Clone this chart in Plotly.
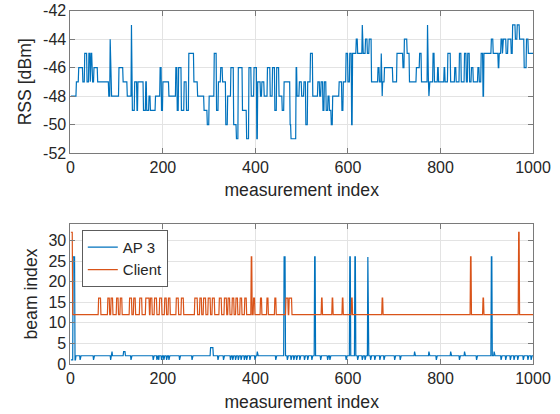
import numpy as np
import plotly.graph_objects as go

N = 1000
measurement_index = list(range(1, N + 1))

# ---- RSS (top) as runs: start position (0-based) and value [dBm]
rss_run_start = [0, 12, 17, 26, 30, 35, 39, 42, 43, 46, 50, 58, 82, 85, 86, 88, 104, 113, 122, 131,
                 132, 138, 143, 145, 157, 162, 164, 169, 172, 183, 193, 196, 199, 212, 227, 230, 233,
                 239, 245, 250, 255, 266, 274, 288, 295, 299, 310, 315, 319, 324, 328, 335, 339, 346,
                 352, 358, 362, 371, 380, 385, 390, 396, 402, 404, 410, 413, 418, 425, 431, 436, 441,
                 445, 450, 457, 461, 474, 476, 487, 489, 494, 499, 504, 508, 512, 518, 523, 534, 538,
                 541, 545, 548, 552, 556, 559, 563, 566, 580, 586, 589, 595, 599, 603, 607, 609, 617,
                 620, 630, 631, 637, 641, 645, 650, 664, 667, 671, 672, 673, 674, 678, 696, 705, 718,
                 721, 727, 732, 747, 754, 758, 771, 772, 774, 775, 783, 786, 793, 795, 807, 809, 815,
                 821, 830, 833, 840, 844, 851, 855, 858, 862, 866, 870, 880, 883, 887, 891, 893, 909,
                 913, 924, 926, 930, 933, 934, 941, 945, 952, 955, 961, 965, 970, 980, 985, 989]
rss_run_value = [-48, -47, -46, -47, -45, -47, -45, -47, -45, -47, -46, -47, -48, -44, -46, -48, -46,
                 -47, -48, -43, -49, -47, -49, -47, -49, -47, -49, -48, -49, -48, -46, -49, -47, -48,
                 -46, -49, -46, -49, -47, -49, -45, -47, -48, -49, -50, -48, -45, -49, -47, -46, -47,
                 -50, -48, -46, -50, -51, -46, -49, -51, -46, -48, -46, -51, -47, -48, -47, -48, -46,
                 -48, -46, -49, -46, -48, -49, -47, -50, -51, -46, -48, -47, -48, -47, -50, -47, -45,
                 -48, -47, -48, -47, -49, -47, -49, -48, -49, -50, -48, -47, -49, -47, -45, -47, -45,
                 -50, -45, -44, -45, -43, -45, -44, -45, -44, -47, -46, -47, -45, -47, -48, -47, -46,
                 -47, -45, -46, -44, -45, -47, -46, -45, -47, -43, -47, -48, -47, -45, -47, -46, -47,
                 -46, -47, -45, -47, -46, -47, -45, -47, -45, -47, -45, -47, -46, -47, -46, -47, -45,
                 -48, -45, -44, -45, -46, -45, -44, -45, -44, -45, -44, -45, -43, -44, -43, -44, -46,
                 -44, -45]

# ---- beam index (bottom): baseline plus events (start position, length, value)
ap3_baseline = 2
ap3_event_start = [0, 5, 9, 20, 49, 86, 130, 178, 186, 190, 196, 201, 207, 212, 235, 262, 318, 330,
                   345, 350, 356, 362, 368, 375, 380, 387, 398, 443, 468, 476, 482, 488, 495, 505,
                   512, 521, 540, 555, 560, 595, 620, 630, 636, 648, 657, 668, 677, 700, 712, 790,
                   840, 877, 930, 940, 950, 958, 966, 978, 988, 995,
                   89, 114, 403, 743, 774, 821, 851, 915, 302,
                   461, 527, 603, 614, 642, 909]
ap3_event_len = [5, 4, 2, 1, 1, 1, 1, 1, 1, 1, 1, 1, 1, 1, 1, 1, 1, 1,
                 1, 1, 1, 1, 1, 1, 1, 1, 1, 1, 1, 1, 1, 1, 1, 1,
                 1, 1, 1, 1, 1, 1, 1, 1, 1, 1, 1, 1, 1, 1, 1, 1,
                 1, 1, 1, 1, 1, 1, 1, 1, 1, 1,
                 1, 4, 1, 1, 1, 1, 1, 1, 6,
                 3, 2, 2, 2, 1, 2]
ap3_event_value = [1, 26, 1] + [1] * 57 + [3, 3, 3, 3, 3, 3, 3, 3, 4] + [26, 26, 26, 26, 26, 26]

client_baseline = 12
client_event_start = [0, 60, 80, 87, 99, 107, 127, 136, 149, 162, 172, 181, 192, 203, 211, 228, 239,
                      268, 279, 287, 297, 306, 321, 332, 340, 349, 357, 366, 376, 395, 410, 424,
                      441, 465, 472, 542, 565, 587, 607, 673, 891,
                      390, 864, 968]
client_event_len = [4, 5, 4, 4, 4, 4, 5, 4, 5, 8, 4, 5, 5, 4, 4, 5, 5,
                    6, 4, 5, 5, 5, 5, 5, 4, 4, 4, 4, 4, 3, 3, 3,
                    3, 5, 6, 2, 2, 2, 2, 2, 2,
                    2, 2, 2]
client_event_value = [32] + [16] * 40 + [26, 26, 32]

x_ticks = [0, 200, 400, 600, 800, 1000]
rss_ticks = [-52, -50, -48, -46, -44, -42]
beam_ticks = [0, 5, 10, 15, 20, 25, 30]


def expand_runs(starts, values, n):
    out = np.empty(n)
    ends = starts[1:] + [n]
    for s, e, v in zip(starts, ends, values):
        out[s:e] = v
    return out


def apply_events(base, starts, lens, vals, n):
    out = np.full(n, float(base))
    for s, l, v in zip(starts, lens, vals):
        out[s:s + l] = v
    return out


rss = expand_runs(rss_run_start, rss_run_value, N)
ap3 = apply_events(ap3_baseline, ap3_event_start, ap3_event_len, ap3_event_value, N)
client = apply_events(client_baseline, client_event_start, client_event_len, client_event_value, N)

BLUE = "#0072BD"
ORANGE = "#D95319"
FONT = "Liberation Sans, Arial, Helvetica, sans-serif"
TXT = "#262626"
AX = "#7a7a7a"
GRID = "#e3e3e3"

fig = go.Figure()
fig.add_trace(go.Scatter(x=measurement_index, y=rss, mode="lines", line=dict(color=BLUE, width=1.2),
                         showlegend=False, xaxis="x", yaxis="y"))
fig.add_trace(go.Scatter(x=measurement_index, y=ap3, mode="lines", line=dict(color=BLUE, width=1.2),
                         name="AP 3", xaxis="x2", yaxis="y2"))
fig.add_trace(go.Scatter(x=measurement_index, y=client, mode="lines", line=dict(color=ORANGE, width=1.2),
                         name="Client", xaxis="x2", yaxis="y2"))

axis_common = dict(showline=True, linecolor=AX, linewidth=1, mirror="ticks", ticks="inside",
                   ticklen=5, tickcolor=AX, showgrid=True, gridcolor=GRID, gridwidth=1,
                   zeroline=False, automargin=False,
                   tickfont=dict(family=FONT, size=16, color=TXT))

title_font = dict(family=FONT, size=17.6, color=TXT)

fig.update_layout(
    width=560, height=414,
    margin=dict(l=0, r=0, t=0, b=0, pad=0, autoexpand=False),
    paper_bgcolor="white", plot_bgcolor="white",
    font=dict(family=FONT, size=16, color=TXT),
    xaxis=dict(domain=[70.4 / 560, 533 / 560], anchor="y", range=[0, 1000],
               tickvals=x_ticks, ticktext=[str(v) for v in x_ticks],
               title=dict(text="measurement index", font=title_font, standoff=8),
               **axis_common),
    yaxis=dict(domain=[1 - 153 / 414, 1 - 10.7 / 414], anchor="x", range=[-52, -42],
               tickvals=rss_ticks, ticktext=[str(v) for v in rss_ticks],
               title=dict(text="RSS [dBm]", font=title_font, standoff=6),
               **axis_common),
    xaxis2=dict(domain=[70.4 / 560, 533 / 560], anchor="y2", range=[0, 1000],
                tickvals=x_ticks, ticktext=[str(v) for v in x_ticks],
                title=dict(text="measurement index", font=title_font, standoff=9),
                **axis_common),
    yaxis2=dict(domain=[1 - 364 / 414, 1 - 224 / 414], anchor="x2", range=[0, 34],
                tickvals=beam_ticks, ticktext=[str(v) for v in beam_ticks],
                title=dict(text="beam index", font=title_font, standoff=6),
                **axis_common),
    legend=dict(x=82 / 560, y=1 - 230 / 414, xanchor="left", yanchor="top",
                bgcolor="white", bordercolor="#333333", borderwidth=0.8,
                font=dict(family=FONT, size=15, color=TXT), tracegroupgap=0,
                itemwidth=30),
)

fig.write_html(
    "out.html",
    config={"displayModeBar": False},
    post_script="document.body.style.margin='0';document.body.style.padding='0';"
                "document.body.style.overflow='hidden';",
)
